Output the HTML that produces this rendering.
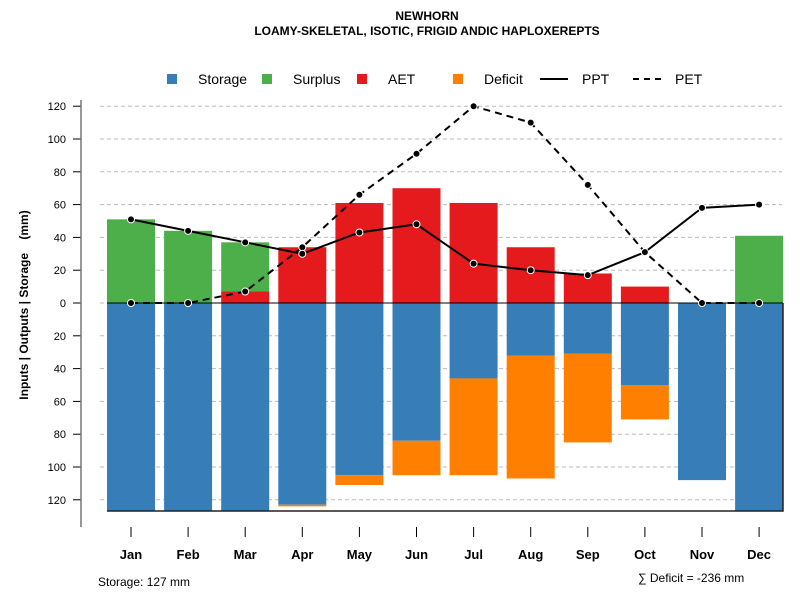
<!DOCTYPE html>
<html><head><meta charset="utf-8"><style>
body{margin:0;background:#fff;font-family:"Liberation Sans",Arial,sans-serif}
svg text{font-family:"Liberation Sans",Arial,sans-serif}
</style></head><body>
<svg id="c" width="800" height="600" viewBox="0 0 800 600" xmlns="http://www.w3.org/2000/svg">
<text x="427" y="20" text-anchor="middle" font-size="12" font-weight="bold">NEWHORN</text>
<text x="427" y="35" text-anchor="middle" font-size="12" font-weight="bold">LOAMY-SKELETAL, ISOTIC, FRIGID ANDIC HAPLOXEREPTS</text>
<g id="grid"></g><g id="bars"></g><g id="lines"></g><g id="axes"></g><g id="legend"></g>
<text xml:space="preserve" style="white-space:pre" transform="translate(28,305) rotate(-90)" text-anchor="middle" font-size="12" font-weight="bold">Inputs | Outputs | Storage    (mm)</text>
<text x="98" y="586" font-size="12">Storage: 127 mm</text>
<text x="638" y="582" font-size="12">∑ Deficit = -236 mm</text>
</svg>
<script>
const months=["Jan","Feb","Mar","Apr","May","Jun","Jul","Aug","Sep","Oct","Nov","Dec"];
const storage=[127,127,127,123,105,84,46,32,31,50,108,127];
const deficit=[0,0,0,1,6,21,59,75,54,21,0,0];
const aet=[0,0,7,34,61,70,61,34,18,10,0,0];
const surplus=[51,44,30,0,0,0,0,0,0,0,0,41];
const ppt=[51,44,37,30,43,48,24,20,17,31,58,60];
const pet=[0,0,7,34,66,91,120,110,72,31,0,0];
const yTicks=[120,100,80,60,40,20,0,20,40,60,80,100,120];
const yTickVals=[120,100,80,60,40,20,0,-20,-40,-60,-80,-100,-120];
const NS="http://www.w3.org/2000/svg";
const X=i=>131+i*57.1;
const Y=v=>303-v*1.64;
function mk(t,a,p){const e=document.createElementNS(NS,t);for(const k in a)e.setAttribute(k,a[k]);document.getElementById(p).appendChild(e);return e;}
yTickVals.forEach((v,i)=>{
 const g=mk("line",{x1:100,x2:782,y1:Y(v),y2:Y(v),stroke:"#bbb","stroke-dasharray":"4,3"},"grid");
 
 
 const t=mk("line",{x1:73,x2:81,y1:Y(v),y2:Y(v),stroke:"#000"},"axes");
 
 
 const l=mk("text",{x:66,y:Y(v)+4,"text-anchor":"end","font-size":"11"},"axes");
 l.textContent=yTicks[i];
 
 
});
const W=48;
months.forEach((m,i)=>{
 const x=X(i)-W/2;
 const s=mk("rect",{x:x,y:Y(0),width:W,height:Y(-storage[i])-Y(0),fill:"#377eb8"},"bars");
 
 
 if(deficit[i]>0){const d=mk("rect",{x:x,y:Y(-storage[i]),width:W,height:Y(-storage[i]-deficit[i])-Y(-storage[i]),fill:"#ff7f00"},"bars");
 
 }
 if(aet[i]>0){const a=mk("rect",{x:x,y:Y(aet[i]),width:W,height:Y(0)-Y(aet[i]),fill:"#e41a1c"},"bars");
 
 }
 if(surplus[i]>0){const g=mk("rect",{x:x,y:Y(aet[i]+surplus[i]),width:W,height:Y(aet[i])-Y(aet[i]+surplus[i]),fill:"#4daf4a"},"bars");
 
 }
 const t=mk("line",{x1:X(i),x2:X(i),y1:527,y2:537,stroke:"#000"},"axes");
 
 
 const l=mk("text",{x:X(i),y:559,"text-anchor":"middle","font-size":"13","font-weight":"bold"},"axes");
 l.textContent=m;
 
 
});
const zl=mk("line",{x1:107,x2:783,y1:303,y2:303,stroke:"#000"},"bars");

const bx=mk("path",{d:"M107,511 H783 V303",fill:"none",stroke:"#222","stroke-width":1.5},"bars");

const ax=mk("line",{x1:81,x2:81,y1:100,y2:527,stroke:"#777","stroke-width":1.5},"axes");

function series(arr,name,dash){
 const p=mk("polyline",{points:arr.map((v,i)=>X(i)+","+Y(v)).join(" "),fill:"none",stroke:"#000","stroke-width":2,"stroke-dasharray":dash},"lines");
 
 
 arr.forEach((v,i)=>{const c=mk("circle",{cx:X(i),cy:Y(v),r:3.5,fill:"#000",stroke:"#fff","stroke-width":1},"lines");
 
 });
}
series(pet,"pet","7,5");series(ppt,"ppt","none");
const leg=[["sq","#377eb8","Storage",172],["sq","#4daf4a","Surplus",267],["sq","#e41a1c","AET",362],["sq","#ff7f00","Deficit",458],["ln","none","PPT",540],["ln","6,5","PET",633]];
leg.forEach(e=>{
 let m;
 if(e[0]=="sq"){m=mk("rect",{x:e[3]-5,y:74,width:10,height:10,fill:e[1]},"legend");}
 else{m=mk("line",{x1:e[3],x2:e[3]+28,y1:79,y2:79,stroke:"#000","stroke-width":2,"stroke-dasharray":e[1]},"legend");}
 
 
 const t=mk("text",{x:e[0]=="sq"?e[3]+26:e[3]+42,y:84,"font-size":"14"},"legend");
 t.textContent=e[2];
 
 
});
</script>
</body></html>
